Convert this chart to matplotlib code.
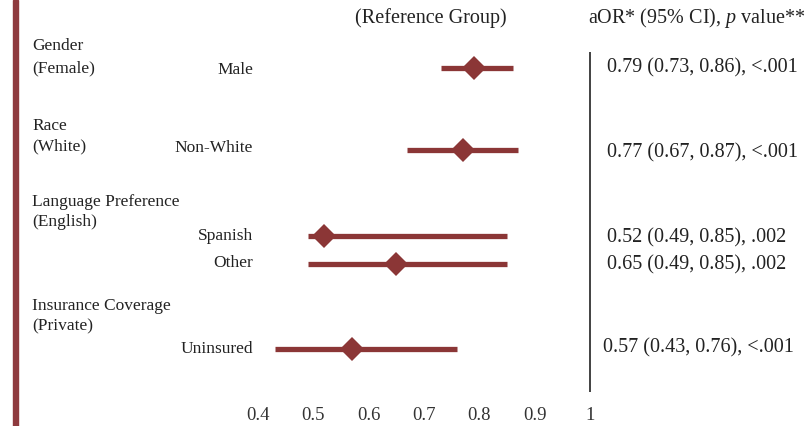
import matplotlib
matplotlib.use("Agg")
import matplotlib.pyplot as plt
from matplotlib.patches import Rectangle

plt.rcParams['font.family'] = ['Liberation Serif', 'DejaVu Serif']
plt.rcParams['mathtext.fontset'] = 'custom'
plt.rcParams['mathtext.rm'] = 'Liberation Serif'
plt.rcParams['mathtext.it'] = 'Liberation Serif:italic'

# Data
groups = ["Gender", "Race", "Language Preference", "Insurance Coverage"]
reference_groups = ["(Female)", "(White)", "(English)", "(Private)"]
categories = ["Male", "Non-White", "Spanish", "Other", "Uninsured"]
aor = [0.79, 0.77, 0.52, 0.65, 0.57]
ci_low = [0.73, 0.67, 0.49, 0.49, 0.43]
ci_high = [0.86, 0.87, 0.85, 0.85, 0.76]
p_values = ["<.001", "<.001", ".002", ".002", "<.001"]
xticks = [0.4, 0.5, 0.6, 0.7, 0.8, 0.9, 1.0]
xticklabels = ["0.4", "0.5", "0.6", "0.7", "0.8", "0.9", "1"]

W, H = 810, 426
fig = plt.figure(figsize=(W / 100, H / 100), dpi=100)

def fx(px):
    return px / W

def fy(py):
    return 1 - py / H

red = '#8b3636'
txt = '#222222'
fs_big = 14.5
fs_lab = 12.5
fs_tick = 13.5

# Layout (pixel rows)
row_y = [68, 150, 236, 264, 349]
group_y = [46, 126, 202, 306]
ref_y = [68, 146, 222, 326]

ax = fig.add_axes([fx(258), fy(395), fx(590) - fx(258), fy(30) - fy(395)])
ax.set_xlim(0.4, 1.0)
ax.set_ylim(395, 30)
for s in ax.spines.values():
    s.set_visible(False)
ax.set_yticks([])
ax.set_xticks(xticks)
ax.set_xticklabels(xticklabels, fontsize=fs_tick, color='#333333')
ax.tick_params(axis='x', length=0, pad=9)
ax.patch.set_alpha(0)

# Reference line at 1
ax.plot([1.0, 1.0], [52, 392], color='#333333', lw=1.3, clip_on=False, solid_capstyle='butt')

# CI lines and point estimates
for y, a, lo, hi in zip(row_y, aor, ci_low, ci_high):
    ax.plot([lo, hi], [y, y], color=red, lw=3.8, solid_capstyle='butt', clip_on=False, zorder=2)
    ax.plot([a], [y], marker='D', color=red, markersize=12, clip_on=False, zorder=3, markeredgewidth=0)

# Left red bar
fig.patches.append(Rectangle((fx(13), 0), fx(5), 1, transform=fig.transFigure, color='#8e3a3e', zorder=5))

# Headers
fig.text(fx(431), fy(18), "(Reference Group)", ha='center', va='center', fontsize=fs_big, color=txt)
fig.text(fx(588), fy(18), "aOR* (95% CI), $\\it{p}$ value**", ha='left', va='center', fontsize=fs_big, color=txt)

# Group labels
for g, r, y1, y2 in zip(groups, reference_groups, group_y, ref_y):
    fig.text(fx(32), fy(y1), g, ha='left', va='center', fontsize=fs_lab, color=txt)
    fig.text(fx(32), fy(y2), r, ha='left', va='center', fontsize=fs_lab, color=txt)

# Category labels
cat_label_y = [70, 148, 236, 263, 349]
for c, y in zip(categories, cat_label_y):
    fig.text(fx(253), fy(y), c, ha='right', va='center', fontsize=fs_lab, color=txt)

# Right-hand estimates
est_y = [68, 153, 238, 265, 348]
est_x = [607, 607, 607, 607, 603]
for a, lo, hi, p, y, x in zip(aor, ci_low, ci_high, p_values, est_y, est_x):
    fig.text(fx(x), fy(y), f"{a:.2f} ({lo:.2f}, {hi:.2f}), {p}", ha='left', va='center', fontsize=fs_big, color=txt)

fig.savefig("out.png", dpi=100)
